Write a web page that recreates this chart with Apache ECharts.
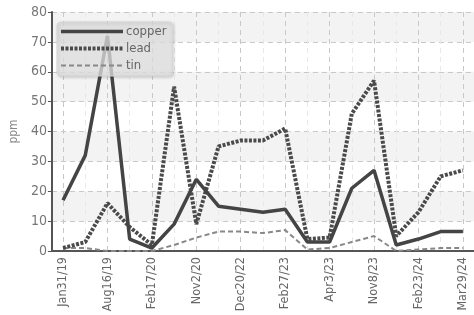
<!DOCTYPE html>
<html>
<head>
    <meta charset="utf-8">
    <script src="https://cdn.jsdelivr.net/npm/echarts@6/dist/echarts.min.js"></script>
</head>
<body style="margin:0;">
<div id="myChart" style="width: 474px; height: 315px;"></div>

<script type="text/javascript">
    var chart = echarts.init(document.getElementById('myChart'));

    // sampling dates (only every other one is labelled on the axis)
    var dates = ['Jan31/19', 'May2/19', 'Aug16/19', 'Nov20/19', 'Feb17/20', 'Jun9/20', 'Nov2/20',
        'Sep14/22', 'Dec20/22', 'Jan24/23', 'Feb27/23', 'Mar15/23', 'Apr3/23', 'Jul6/23',
        'Nov8/23', 'Dec12/23', 'Feb23/24', 'Mar8/24', 'Mar29/24'];

    var copper = [17, 32, 72, 4, 1, 9, 24, 15, 14, 13, 14, 3, 3, 21, 27, 2, 4, 6.5, 6.5];
    var lead = [1, 3, 16, 8, 2, 55, 9, 35, 37, 37, 41, 4, 4.5, 46, 57, 5, 13, 25, 27];
    var tin = [1, 1, 0, 0, 0, 2, 4.5, 6.5, 6.5, 6, 7, 0.5, 1, 3, 5, 0, 0.5, 1, 1];

    var yTicks = [0, 80, 10];  // min, max, interval

    var labelFont = 'DejaVu Sans Condensed';

    var copperLine = {color: '#444', width: 3.5};
    var leadLine = {color: '#4a4a4a', width: 4, type: [3, 1.5]};
    var tinLine = {color: '#888', width: 2, type: [5, 3]};

    var option = {
        animation: false,
        legend: {
            orient: 'vertical',
            left: 57,
            top: 22,
            padding: [3, 6, 4, 2],
            itemGap: 4,
            itemWidth: 62,
            itemHeight: 14,
            backgroundColor: 'rgba(228,228,228,0.75)',
            borderColor: '#d6d6d6',
            borderWidth: 1,
            borderRadius: 4,
            shadowColor: 'rgba(0,0,0,0.2)',
            shadowBlur: 3,
            shadowOffsetX: 1,
            shadowOffsetY: 1,
            itemStyle: {opacity: 0},  // 只要线，不要圆点
            textStyle: {
                color: '#666',
                fontFamily: labelFont,
                fontSize: 13,
                padding: [0, 0, 0, -2],
            },
            data: [
                {name: 'copper', lineStyle: copperLine},
                {name: 'lead', lineStyle: leadLine},
                {name: 'tin', lineStyle: tinLine},
            ],
        },
        grid: {
            top: 12,
            left: 48,
            right: -5,
            bottom: 64,
        },
        xAxis: {
            type: 'category',
            boundaryGap: true,
            data: dates,
            axisLine: {
                lineStyle: {color: '#555', width: 2},
            },
            axisTick: {
                alignWithLabel: true,
                interval: 1,
                length: 4,
                lineStyle: {color: '#555'},
            },
            axisLabel: {
                interval: 1,
                rotate: 90,
                color: '#666',
                fontFamily: labelFont,
                fontSize: 12.5,
                margin: 6,
            },
            splitLine: {  // 竖向网格线，隔一条深一点
                show: true,
                interval: 0,
                alignWithLabel: true,
                lineStyle: {
                    color: ['#c8c8c8', '#e8e8e8'],
                    type: [5, 4],
                },
            },
        },
        yAxis: {
            type: 'value',
            min: yTicks[0],
            max: yTicks[1],
            interval: yTicks[2],
            name: 'ppm',
            nameLocation: 'middle',
            nameGap: 27,
            nameTextStyle: {
                color: '#888',
                fontFamily: labelFont,
                fontSize: 12,
            },
            axisLine: {
                show: true,
                lineStyle: {color: '#555', width: 2},
            },
            axisTick: {
                show: true,
                length: 4,
                lineStyle: {color: '#555'},
            },
            axisLabel: {
                color: '#777',
                fontFamily: labelFont,
                fontSize: 14,
                margin: 5,
            },
            splitLine: {
                lineStyle: {
                    color: '#c8c8c8',
                    type: [5, 4],
                },
            },
            splitArea: {
                show: true,
                areaStyle: {
                    color: ['rgba(255,255,255,0)', '#f3f3f3'],
                },
            },
        },
        series: [{
            name: 'copper',
            type: 'line',
            symbol: 'none',
            data: copper,
            lineStyle: copperLine,
            itemStyle: {color: copperLine.color},
            z: 3,
        }, {
            name: 'lead',
            type: 'line',
            symbol: 'none',
            data: lead,
            lineStyle: leadLine,
            itemStyle: {color: leadLine.color},
            z: 2,
        }, {
            name: 'tin',
            type: 'line',
            symbol: 'none',
            data: tin,
            lineStyle: tinLine,
            itemStyle: {color: tinLine.color},
            z: 1,
        }],
    };

    chart.setOption(option);
</script>
</body>
</html>
